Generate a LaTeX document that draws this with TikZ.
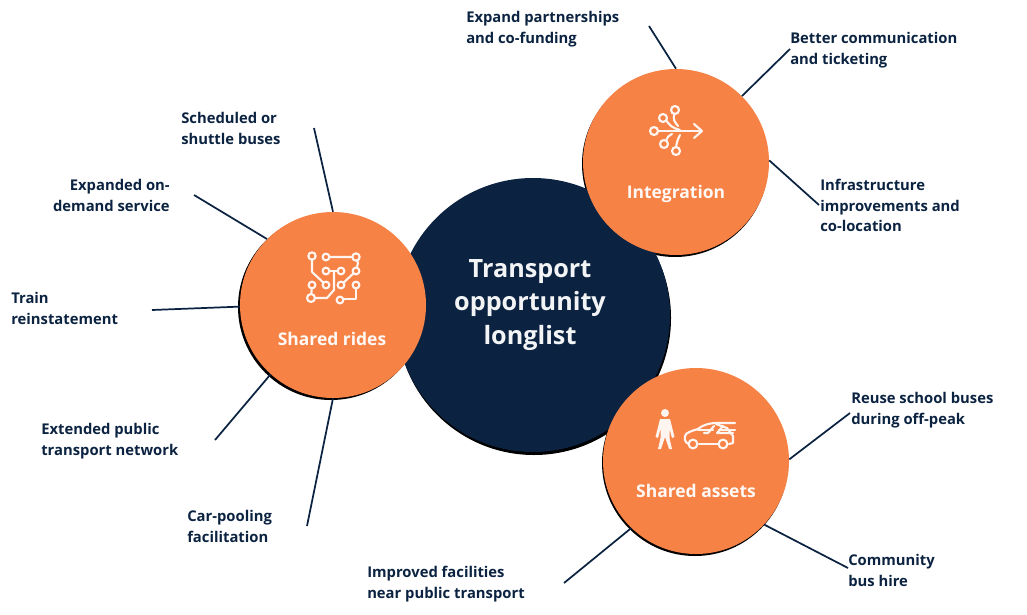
\documentclass[tikz,border=0pt]{standalone}
\usepackage{fontspec}
\setmainfont{Open Sans}
\definecolor{tlnavy}{RGB}{11,35,65}
\definecolor{tlorange}{RGB}{246,130,70}
\usetikzlibrary{arrows.meta,positioning,calc}
\tikzset{
  hub/.style={circle,fill=tlorange,minimum size=186*0.75pt,inner sep=0pt},
  hubname/.style={font=\fontsize{13.1}{15}\selectfont\bfseries,text=white!95!tlorange},
  oplabel/.style={font=\fontsize{11.1}{15.4}\selectfont\bfseries,text=tlnavy,align=left,anchor=north west,inner sep=0pt},
  spoke/.style={tlnavy,line width=1.3pt},
  icon/.style={white!92!tlorange,line width=1.6pt,line cap=round,line join=round},
  pin/.style={icon,fill=tlorange}
}
\begin{document}
\begin{tikzpicture}[x=0.75pt,y=-0.75pt]
  \useasboundingbox (0,0) rectangle (1027,614);
  % spokes go first, the circles sit on top
  \foreach \nm/\x/\y in {
    sa/314/128, sb/194/195, sc/152/310, sd/215/440, se/307/526,
    sf/649/26, sg/790/49, sh/819/205,
    si/850/413, sj/848/568, sk/564/583}{
    \coordinate (\nm) at (\x,\y);
  }
  % shadows
  \fill[black] (534,318) circle (137);
  \fill[black] (331,307) circle (93);
  \fill[black] (675,164) circle (93);
  \fill[black] (695,463) circle (93);
  \node[circle,fill=tlnavy,minimum size=274*0.75pt,inner sep=0pt] (main) at (533,315) {};
  \node[hub] (rides) at (333,305) {};
  \node[hub] (integ) at (676,162) {};
  \node[hub] (assets) at (696,461) {};
  \draw[spoke] (sa) -- (rides.90);
  \draw[spoke] (sb) -- (rides.135);
  \draw[spoke] (sc) -- (rides.181);
  \draw[spoke] (sd) -- (rides.228);
  \draw[spoke] (se) -- (rides.270);
  \draw[spoke] (sf) -- (integ.90);
  \draw[spoke] (sg) -- (integ.45);
  \draw[spoke] (sh) -- (integ.1);
  \draw[spoke] (si) -- (assets.1);
  \draw[spoke] (sj) -- (assets.-43);
  \draw[spoke] (sk) -- (assets.226);
  \node[font=\fontsize{18.9}{25.4}\selectfont\bfseries,text=white!95!tlnavy,align=center] (title) at (530,305) {Transport\\opportunity\\longlist};
  \node[hubname] (ridesname) at (332,339) {Shared rides};
  \node[hubname] (integname) at (676,194) {Integration};
  \node[hubname] (assetsname) at (696,491) {Shared assets};
  % labels
  \foreach \nm/\x/\y/\txt in {
    la/181/112/{Scheduled or\\shuttle buses},
    lc/11/292/{Train\\reinstatement},
    ld/41/423/{Extended public\\transport network},
    le/187/510/{Car-pooling\\facilitation},
    lf/466/11/{Expand partnerships\\and co-funding},
    lg/790/32/{Better communication\\and ticketing},
    lh/820/179/{Infrastructure\\improvements and\\co-location},
    li/851/392/{Reuse school buses\\during off-peak},
    lj/848/554/{Community\\bus hire},
    lk/367/566/{Improved facilities\\near public transport}}{
    \node[oplabel] (\nm) at (\x,\y) {\txt};
  }
  \node[oplabel,align=right,anchor=north east] (lb) at (170,179) {Expanded on-\\demand service};
  % shared rides icon
  \draw[icon] (312,256) -- (312,272) -- (326,285);
  \draw[icon] (326,257) -- (356,257) -- (358,263) -- (356,271);
  \draw[icon] (326,271) -- (341,271);
  \draw[icon] (334,271) -- (334,290) -- (327,298) -- (311,298) -- (312,285);
  \draw[icon] (356,271) -- (341,285);
  \draw[icon] (356,285) -- (356,299) -- (340,299);
  \foreach \x/\y/\r in {312/256/3.7,326/257/3.4,356/257/3.7,326/271/3.4,341/271/3.4,356/271/3.4,
    312/285/3.4,326/285/3.4,341/285/3.4,356/285/3.4,311/298/4,340/300/3.4}{
    \draw[pin] (\x,\y) circle (\r);
  }
  % integration icon
  \draw[icon] (655,131) -- (701,131);
  \draw[icon] (694,124) -- (702,131) -- (694,138);
  \draw[icon] (675,112) .. controls (672,120) and (675,122) .. (678,126);
  \draw[icon] (665,118) .. controls (669,126) and (673,128) .. (680,130);
  \draw[icon] (666,143) .. controls (666,137) and (670,135) .. (672,134);
  \draw[icon] (676,150) .. controls (676,143) and (678,139) .. (680,135);
  \foreach \x/\y in {675/110,663/118,654/131,664/144,676/151}{
    \draw[pin] (\x,\y) circle (4);
  }
  % person
  \fill[white!92!tlorange] (665,413) circle (4);
  \fill[white!92!tlorange] (660,419) -- (670,419) -- (674.5,437) -- (672,438) -- (669.5,429) -- (669.5,438) -- (672,449) -- (669,449) -- (665,437) -- (661,449) -- (658,449) -- (660.5,438) -- (660.5,429) -- (658,438) -- (655.5,437) -- cycle;
  % car
  \draw[icon] (689,444) .. controls (684,443) and (684,437) .. (686,434) .. controls (690,431) and (695,430) .. (698,429) .. controls (704,424) and (711,423) .. (717,423) -- (735,423);
  \draw[icon] (699,444) -- (718,444);
  \draw[icon] (729,444) -- (733,443) -- (733,436) -- (727,428) -- (716,424);
  \draw[icon] (698,430) -- (713,430);
  \draw[icon] (714,426) -- (708,433) -- (704,433);
  \draw[icon] (719,430) -- (735,430);
  \draw[icon] (723,426) -- (717,433) -- (733,433);
  \draw[icon] (693,444) circle (4.4);
  \draw[icon] (723,444) circle (4.4);
\end{tikzpicture}
\end{document}
